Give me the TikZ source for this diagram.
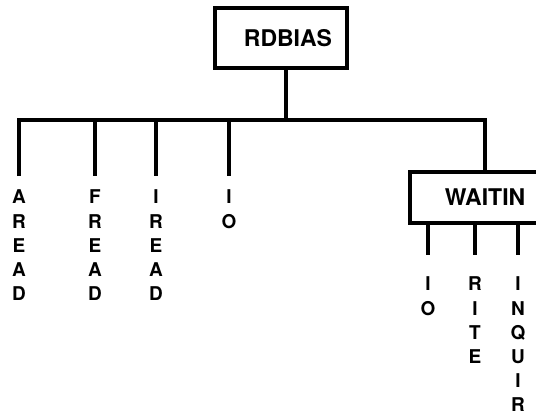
\documentclass[tikz,border=0pt]{standalone}
\usepackage{fontspec}
\setmainfont{TeX Gyre Heros}

\begin{document}
\begin{tikzpicture}[x=1pt,y=-1pt,line width=4pt,
    routine/.style={draw,line width=4pt,inner sep=0pt,font=\fontsize{23}{26}\selectfont\bfseries},
    callee/.style={anchor=north,inner sep=0pt,align=center,font=\fontsize{19}{24.2}\selectfont\bfseries}]
  \useasboundingbox (0,0) rectangle (536,415);
  % the two boxed routines
  \node [routine, minimum width=132pt, minimum height=60pt] (rdbias) at (281,38) {\hspace*{14pt}RDBIAS};
  \node [routine, minimum width=150pt, minimum height=51pt] (waitin) at (485,197.5) {WAITIN};
  % routines called from RDBIAS, spelt downwards
  \node [callee] (aread) at (19,188) {A\\R\\E\\A\\D};
  \node [callee] (fread) at (95,188) {F\\R\\E\\A\\D};
  \node [callee] (iread) at (156,188) {I\\R\\E\\A\\D};
  \node [callee] (io)    at (229,188) {I\\O};
  % routines called from WAITIN
  \node [callee] (wio)    at (428,275) {I\\O};
  \node [callee] (rite)   at (475,275) {R\\I\\T\\E};
  \node [callee] (inquir) at (518,275) {I\\N\\Q\\U\\I\\R};
  \coordinate (bar) at (286,120);
  \draw (bar |- rdbias.south) -- (bar);
  \draw [shorten <=12pt] (aread.north) -- (aread.north |- bar) -- (waitin.north |- bar) -- (waitin.north);
  \draw [shorten >=12pt] (fread.north |- bar) -- (fread.north);
  \draw [shorten >=12pt] (iread.north |- bar) -- (iread.north);
  \draw [shorten >=12pt] (io.north |- bar) -- (io.north);
  \draw [shorten >=20pt] (wio.north |- waitin.south) -- (wio.north);
  \draw [shorten >=20pt] (rite.north |- waitin.south) -- (rite.north);
  \draw [shorten >=20pt] (inquir.north |- waitin.south) -- (inquir.north);
\end{tikzpicture}
\end{document}
